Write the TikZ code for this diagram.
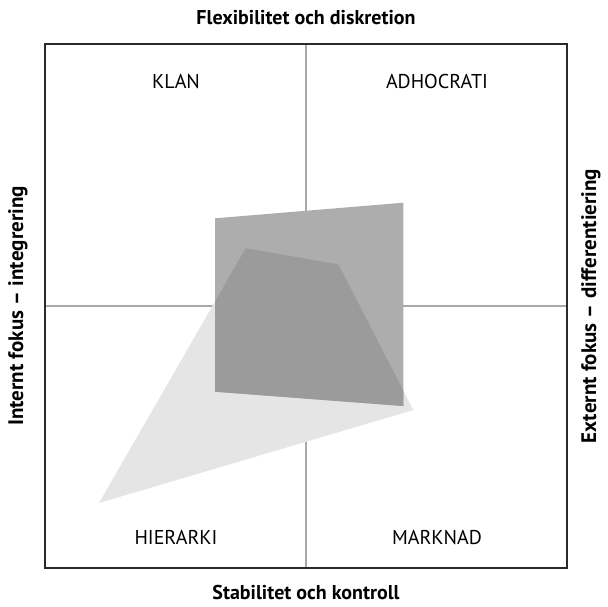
\documentclass[tikz,border=0pt]{standalone}
\usepackage{fontspec}
\setmainfont{PT Sans}
\definecolor{lightfill}{HTML}{E5E5E5}
\definecolor{midfill}{HTML}{ADADAD}
\definecolor{overlapfill}{HTML}{9B9B9B}
\definecolor{gridgray}{HTML}{A8A8A8}
\definecolor{boxgray}{HTML}{2A2A2A}
\begin{document}
\begin{tikzpicture}[x=1pt,y=-1pt,
  axislabel/.style={font=\fontsize{20}{23}\selectfont\bfseries, inner sep=0pt},
  sidelabel/.style={font=\fontsize{21}{24}\selectfont\bfseries, inner sep=0pt, rotate=90},
  quadlabel/.style={font=\fontsize{20}{23}\selectfont, inner sep=0pt},
  gridline/.style={draw=gridgray, line width=1.2pt},
  boxline/.style={draw=boxgray, line width=1.3pt},
]
\useasboundingbox (0,0) rectangle (608,606);
% frame corners and centre
\coordinate (tl) at (45,44);
\coordinate (br) at (567,568);
\coordinate (top) at (306,44);
\coordinate (bot) at (306,568);
\coordinate (lft) at (45,306);
\coordinate (rgt) at (567,306);
% grid cross
\draw[gridline] (top) -- (bot);
\draw[gridline] (lft) -- (rgt);
% light polygon
\coordinate (l1) at (99,503);
\coordinate (l2) at (245.7,248.3);
\coordinate (l3) at (338.3,264.3);
\coordinate (l4) at (413.3,410);
% medium quad
\coordinate (m1) at (215,218.3);
\coordinate (m2) at (403.3,202.7);
\coordinate (m3) at (403.3,406);
\coordinate (m4) at (215,391.7);
\fill[lightfill] (l1) -- (l2) -- (l3) -- (l4) -- cycle;
\fill[midfill] (m1) -- (m2) -- (m3) -- (m4) -- cycle;
\begin{scope}
  \clip (l1) -- (l2) -- (l3) -- (l4) -- cycle;
  \fill[overlapfill] (m1) -- (m2) -- (m3) -- (m4) -- cycle;
\end{scope}
% frame
\draw[boxline] (tl) rectangle (br);
% labels
\node[axislabel] (ttl) at (306,18) {Flexibilitet och diskretion};
\node[axislabel] (btl) at (306,592) {Stabilitet och kontroll};
\node[sidelabel] (ltl) at (18,306) {Internt fokus – integrering};
\node[sidelabel] (rtl) at (591,306) {Externt fokus – differentiering};
\node[quadlabel] (klan) at (176,81) {KLAN};
\node[quadlabel] (adho) at (437,81) {ADHOCRATI};
\node[quadlabel] (hier) at (176,537) {HIERARKI};
\node[quadlabel] (mark) at (437,537) {MARKNAD};
\end{tikzpicture}
\end{document}
